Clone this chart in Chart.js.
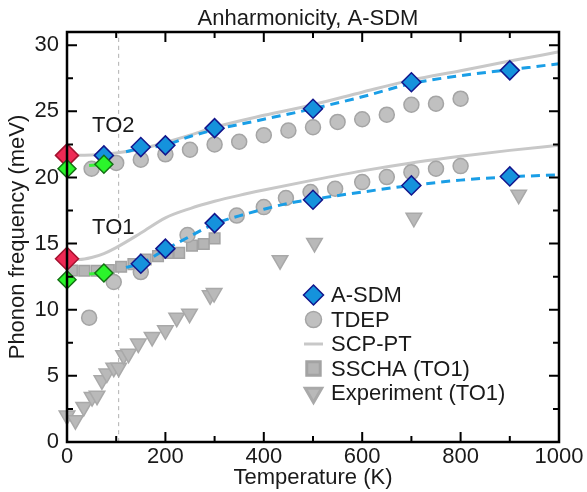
<!DOCTYPE html>
<html lang="en">

<head>
    <meta charset="UTF-8">
    <title>Anharmonicity, A-SDM</title>
    <script src="https://cdn.jsdelivr.net/npm/chart.js"></script>
    <style>
        body { margin: 0; background: #fff; }
    </style>
</head>

<body>
    <canvas id="phononChart" width="587" height="492"></canvas>
    <script>
        // A-SDM (blue diamonds)
        const asdmTO2T = [75, 150, 200, 300, 500, 700, 900];
        const asdmTO2 = [21.67, 22.3, 22.43, 23.73, 25.2, 27.2, 28.1];
        const asdmTO1T = [150, 200, 300, 500, 700, 900];
        const asdmTO1 = [13.48, 14.62, 16.55, 18.32, 19.4, 20.08];

        // harmonic values at 0 K (red) and low-T values (green)
        const harmT = [0, 0];
        const harm = [21.67, 13.86];
        const lowT = [0, 75, 0, 75];
        const low = [20.66, 21.0, 12.27, 12.78];

        // fitted dashed curves
        const fitTO2T = [120, 150, 200, 250, 300, 400, 500, 600, 700, 800, 900, 1000];
        const fitTO2 = [21.95, 22.2, 22.45, 23.1, 23.6, 24.4, 25.2, 26.1, 27.1, 27.7, 28.15, 28.6];
        const fitTO1T = [120, 150, 200, 250, 300, 350, 400, 450, 500, 600, 700, 800, 900, 1000];
        const fitTO1 = [13.2, 13.5, 14.55, 15.55, 16.5, 17.1, 17.6, 18.05, 18.35, 18.9, 19.4, 19.8, 20.05, 20.2];
        const lowFitT = [45, 75];
        const lowFitTO2 = [20.9, 21.0];
        const lowFitTO1 = [12.7, 12.78];

        // TDEP
        const tdepTO2T = [50, 100, 150, 200, 250, 300, 350, 400, 450, 500, 550, 600, 650, 700, 750, 800];
        const tdepTO2 = [20.66, 21.1, 21.35, 21.75, 22.1, 22.5, 22.7, 23.2, 23.55, 23.8, 24.2, 24.4, 24.75, 25.5, 25.58, 25.96];
        const tdepTO1T = [45, 95, 150, 245, 345, 400, 445, 495, 545, 600, 650, 700, 750, 800];
        const tdepTO1 = [9.4, 12.1, 12.85, 15.65, 17.12, 17.76, 18.45, 18.9, 19.15, 19.65, 20.03, 20.4, 20.66, 20.86];

        // SCP-PT
        const scpTO2T = [0, 50, 100, 150, 200, 250, 300, 400, 500, 600, 700, 800, 900, 1000];
        const scpTO2 = [21.67, 21.7, 21.85, 22.15, 22.65, 23.2, 23.8, 24.7, 25.5, 26.45, 27.36, 28.07, 28.8, 29.5];
        const scpTO1T = [0, 25, 50, 75, 100, 150, 200, 250, 300, 350, 400, 500, 600, 700, 800, 900, 1000];
        const scpTO1 = [13.8, 13.8, 13.95, 14.25, 14.7, 15.8, 16.95, 17.65, 18.2, 18.65, 19.05, 19.8, 20.5, 21.1, 21.6, 22.05, 22.43];

        // SSCHA (TO1)
        const sschaT = [10, 35, 60, 85, 110, 135, 160, 185, 205, 228, 254, 278, 300];
        const sscha = [12.97, 12.95, 12.95, 13.0, 13.25, 13.45, 13.8, 14.05, 14.3, 14.3, 14.85, 14.97, 15.4];

        // Experiment (TO1)
        const expT = [0, 17, 34, 51, 61, 71, 81, 95, 105, 115, 125, 145, 173, 200, 223, 249, 291, 299, 433, 503, 705, 918];
        const expTO1 = [2.0, 1.65, 2.65, 3.4, 3.5, 4.66, 5.17, 5.62, 5.62, 6.55, 6.68, 7.44, 7.94, 8.44, 9.4, 9.7, 11.09, 11.26, 13.75, 15.05, 16.95, 18.7];

        // phase transition temperature (K)
        const transitionT = 105;

        const xTicks = [0, 200, 400, 600, 800, 1000];
        const yTicks = [0, 5, 10, 15, 20, 25, 30];

        const FONT = "'Liberation Sans', Arial, sans-serif";
        const TEXT = '#1a1a1a';
        const BLUE = '#1592dc', NAVY = '#13168c';
        const GREY_FILL = '#c0c0c0', GREY_EDGE = '#a5a5a5';

        const pts = (xs, ys) => xs.map((x, i) => ({ x: x, y: ys[i] }));

        const marker = (label, xs, ys, style, radius, fill, edge, extra) => Object.assign({
            label: label,
            data: pts(xs, ys),
            pointStyle: style,
            pointRadius: radius,
            pointHoverRadius: radius,
            backgroundColor: fill,
            borderColor: edge,
            pointBorderWidth: 1.5,
            showLine: false,
            clip: false,
        }, extra || {});

        const curve = (label, xs, ys, color, width, dash) => ({
            label: label,
            data: pts(xs, ys),
            showLine: true,
            pointRadius: 0,
            pointHoverRadius: 0,
            borderColor: color,
            borderWidth: width,
            borderDash: dash,
            cubicInterpolationMode: 'monotone',
            clip: false,
        });

        // frame with inward ticks on all four sides, drawn over the markers
        const frameTicks = {
            id: 'frameTicks',
            afterDatasetsDraw(chart) {
                const { ctx, chartArea: a, scales: { x, y } } = chart;
                ctx.save();
                ctx.strokeStyle = '#000';
                ctx.lineWidth = 2;
                ctx.beginPath();
                for (let t = 0; t <= 1000; t += 100) {
                    const px = x.getPixelForValue(t);
                    const len = t % 200 === 0 ? 10 : 6;
                    ctx.moveTo(px, a.bottom); ctx.lineTo(px, a.bottom - len);
                    ctx.moveTo(px, a.top); ctx.lineTo(px, a.top + len);
                }
                for (let v = 0; v <= 30; v += 2.5) {
                    const py = y.getPixelForValue(v);
                    const len = v % 5 === 0 ? 10 : 6;
                    ctx.moveTo(a.left, py); ctx.lineTo(a.left + len, py);
                    ctx.moveTo(a.right, py); ctx.lineTo(a.right - len, py);
                }
                ctx.stroke();
                ctx.lineWidth = 2.5;
                ctx.strokeRect(a.left, a.top, a.right - a.left, a.bottom - a.top);
                ctx.restore();
            }
        };

        // title, mode labels and legend
        const legendItems = [
            { text: 'A-SDM', pointStyle: 'rectRot', radius: 10, fill: BLUE, edge: NAVY },
            { text: 'TDEP', pointStyle: 'circle', radius: 8, fill: GREY_FILL, edge: GREY_EDGE },
            { text: 'SCP-PT', line: '#c8c8c8' },
            { text: 'SSCHA (TO1)', pointStyle: 'rect', radius: 9.5, fill: '#b5b5b5', edge: '#a3a3a3' },
            { text: 'Experiment (TO1)', pointStyle: 'triangle', rotation: 180, radius: 9.5, fill: '#b9b9b9', edge: '#a9a9a9' },
        ];

        const annotations = {
            id: 'annotations',
            afterDraw(chart) {
                const { ctx, chartArea: a, scales: { x, y } } = chart;
                ctx.save();
                ctx.fillStyle = TEXT;
                ctx.font = `22px ${FONT}`;
                ctx.textBaseline = 'alphabetic';
                ctx.textAlign = 'center';
                ctx.fillText('Anharmonicity, A-SDM', (a.left + a.right) / 2 - 5, 25);

                ctx.textAlign = 'left';
                ctx.fillText('TO2', x.getPixelForValue(51), y.getPixelForValue(23.45));
                ctx.fillText('TO1', x.getPixelForValue(51), y.getPixelForValue(15.75));

                const lx = 313.5, ly = 295, step = 24.5;
                ctx.textBaseline = 'middle';
                legendItems.forEach((it, i) => {
                    const cy = ly + i * step;
                    if (it.line) {
                        ctx.strokeStyle = it.line;
                        ctx.lineWidth = 3;
                        ctx.beginPath();
                        ctx.moveTo(lx - 9.5, cy); ctx.lineTo(lx + 9.5, cy);
                        ctx.stroke();
                    } else {
                        ctx.fillStyle = it.fill;
                        ctx.strokeStyle = it.edge;
                        Chart.helpers.drawPoint(ctx, {
                            pointStyle: it.pointStyle,
                            radius: it.radius,
                            rotation: it.rotation || 0,
                            borderWidth: 1.5,
                        }, lx, cy);
                    }
                    ctx.fillStyle = TEXT;
                    ctx.fillText(it.text, 331, cy + 1);
                });
                ctx.restore();
            }
        };

        // earlier datasets are drawn on top
        const datasets = [
            marker('Low T', lowT, low, 'rectRot', 9, '#2bf52b', '#137013'),
            marker('Harmonic', harmT, harm, 'rectRot', 11.5, '#ee2a55', '#a3122f'),
            marker('A-SDM TO2', asdmTO2T, asdmTO2, 'rectRot', 9.5, BLUE, NAVY),
            marker('A-SDM TO1', asdmTO1T, asdmTO1, 'rectRot', 9.5, BLUE, NAVY),
            curve('Low T fit TO2', lowFitT, lowFitTO2, '#3cf03c', 3, [7, 5]),
            curve('Low T fit TO1', lowFitT, lowFitTO1, '#3cf03c', 3, [7, 5]),
            curve('A-SDM fit TO2', fitTO2T, fitTO2, '#1a9ee6', 3, [9, 6]),
            curve('A-SDM fit TO1', fitTO1T, fitTO1, '#1a9ee6', 3, [9, 6]),
            marker('TDEP TO2', tdepTO2T, tdepTO2, 'circle', 7.5, GREY_FILL, GREY_EDGE),
            marker('TDEP TO1', tdepTO1T, tdepTO1, 'circle', 7.5, GREY_FILL, GREY_EDGE),
            marker('SSCHA (TO1)', sschaT, sscha, 'rect', 7.5, '#b5b5b5', '#a3a3a3'),
            marker('Experiment (TO1)', expT, expTO1, 'triangle', 9, '#b9b9b9', '#a9a9a9', { rotation: 180 }),
            curve('SCP-PT TO2', scpTO2T, scpTO2, '#c8c8c8', 3, []),
            curve('SCP-PT TO1', scpTO1T, scpTO1, '#c8c8c8', 3, []),
            curve('Transition', [transitionT, transitionT], [0, 31], '#b0b0b0', 1, [4, 4]),
        ];

        const tickFont = { family: FONT, size: 22 };

        new Chart(document.getElementById('phononChart'), {
            type: 'scatter',
            data: { datasets: datasets },
            options: {
                responsive: false,
                animation: false,
                layout: { padding: { top: 32, right: 28, left: 0, bottom: 0 } },
                plugins: {
                    legend: { display: false },
                    title: { display: false },
                    tooltip: { enabled: false },
                },
                scales: {
                    x: {
                        type: 'linear',
                        min: 0,
                        max: 1000,
                        afterFit(s) { s.height = 50; },
                        afterBuildTicks(s) { s.ticks = xTicks.map(v => ({ value: v })); },
                        ticks: { font: tickFont, color: TEXT, padding: 2, maxRotation: 0, callback: v => String(v) },
                        grid: { display: false, drawTicks: false },
                        border: { display: false },
                        title: {
                            display: true,
                            text: 'Temperature (K)',
                            font: tickFont,
                            color: TEXT,
                            padding: { top: 0, bottom: 1 },
                        },
                    },
                    y: {
                        min: 0,
                        max: 31,
                        afterFit(s) { s.width = 67; },
                        afterBuildTicks(s) { s.ticks = yTicks.map(v => ({ value: v })); },
                        ticks: { font: tickFont, color: TEXT, padding: 8, callback: v => String(v) },
                        grid: { display: false, drawTicks: false },
                        border: { display: false },
                        title: {
                            display: true,
                            text: 'Phonon frequency (meV)',
                            font: tickFont,
                            color: TEXT,
                            padding: { top: 5, bottom: 0 },
                        },
                    },
                },
            },
            plugins: [frameTicks, annotations],
        });
    </script>
</body>

</html>
